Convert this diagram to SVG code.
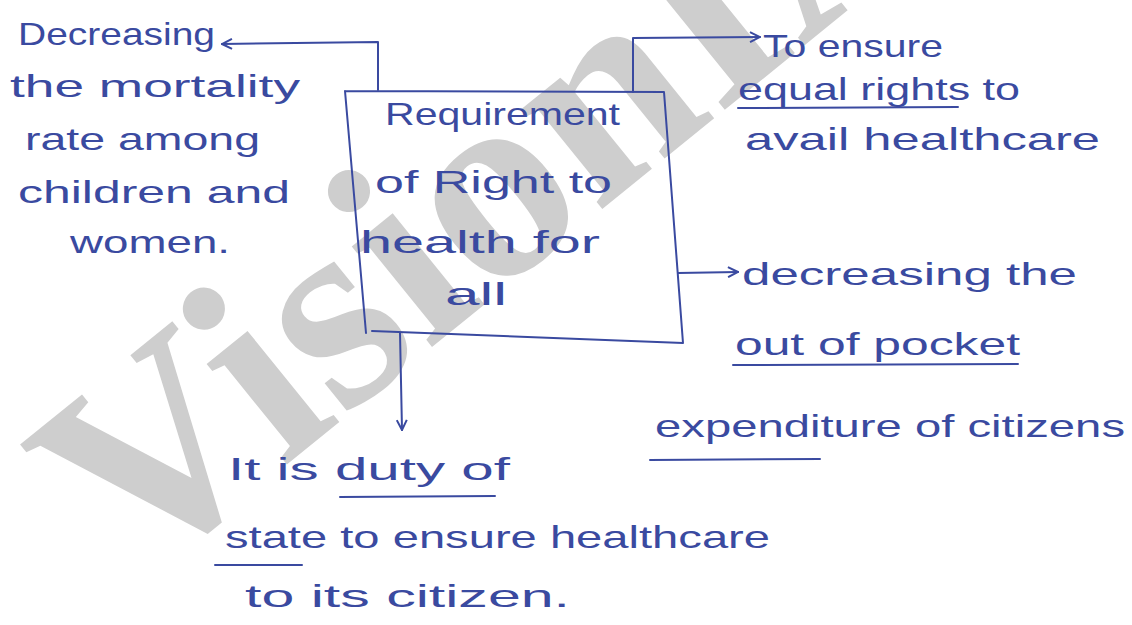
<svg xmlns="http://www.w3.org/2000/svg" width="1132" height="625" viewBox="0 0 1132 625">
<defs>
<style>
.t{font-family:"Liberation Sans","DejaVu Sans",sans-serif;font-size:32px;fill:#3a4aa0}
.ln{stroke:#3a4aa0;stroke-width:2;fill:none;stroke-linecap:round;stroke-linejoin:round}
.wm{font-family:"Liberation Serif","Times New Roman",serif;font-size:280px;font-weight:bold;fill:#cecece}
</style>
<marker id="ah" viewBox="0 0 12 12" refX="11" refY="6" markerWidth="12" markerHeight="12" markerUnits="userSpaceOnUse" orient="auto">
<path d="M1,1 L11,6 L1,11" fill="none" stroke="#3a4aa0" stroke-width="2"/>
</marker>
</defs>
<rect width="1132" height="625" fill="#ffffff"/>
<text class="wm" transform="translate(133,589) rotate(-39)">VisionIAS</text>
<g id="connectors">
<path class="ln" d="M378,90 L378,42 L222,44" marker-end="url(#ah)"/>
<path class="ln" d="M633,92 L633,38 L760,37" marker-end="url(#ah)"/>
<path class="ln" d="M678,273 L738,272" marker-end="url(#ah)"/>
<path class="ln" d="M400,333 L402,430" marker-end="url(#ah)"/>
</g>
<g id="center">
<path class="ln" d="M345,91 L664,92 L683,343 L372,331 M345,91 L366,333"/>
<text class="t" x="385" y="125" textLength="235" lengthAdjust="spacingAndGlyphs">Requirement</text>
<text class="t" x="375" y="193" textLength="237" lengthAdjust="spacingAndGlyphs">of Right to</text>
<text class="t" x="360" y="253" textLength="240" lengthAdjust="spacingAndGlyphs">health for</text>
<text class="t" x="445" y="305" textLength="62" lengthAdjust="spacingAndGlyphs">all</text>
</g>
<g id="left">
<text class="t" x="18" y="45" textLength="197" lengthAdjust="spacingAndGlyphs">Decreasing</text>
<text class="t" x="10" y="97" textLength="290" lengthAdjust="spacingAndGlyphs">the mortality</text>
<text class="t" x="25" y="150" textLength="235" lengthAdjust="spacingAndGlyphs">rate among</text>
<text class="t" x="18" y="203" textLength="272" lengthAdjust="spacingAndGlyphs">children and</text>
<text class="t" x="70" y="253" textLength="160" lengthAdjust="spacingAndGlyphs">women.</text>
</g>
<g id="topright">
<text class="t" x="763" y="57" textLength="180" lengthAdjust="spacingAndGlyphs">To ensure</text>
<text class="t" x="738" y="100" textLength="282" lengthAdjust="spacingAndGlyphs">equal rights to</text>
<path class="ln" d="M738,108 L958,107"/>
<text class="t" x="745" y="150" textLength="355" lengthAdjust="spacingAndGlyphs">avail healthcare</text>
</g>
<g id="right">
<text class="t" x="742" y="285" textLength="335" lengthAdjust="spacingAndGlyphs">decreasing the</text>
<text class="t" x="735" y="355" textLength="285" lengthAdjust="spacingAndGlyphs">out of pocket</text>
<path class="ln" d="M733,365 L1018,364"/>
<text class="t" x="655" y="437" textLength="470" lengthAdjust="spacingAndGlyphs">expenditure of citizens</text>
<path class="ln" d="M650,460 L820,459"/>
</g>
<g id="bottom">
<text class="t" x="228" y="480" textLength="282" lengthAdjust="spacingAndGlyphs">It is duty of</text>
<path class="ln" d="M340,497 L495,496"/>
<text class="t" x="225" y="548" textLength="545" lengthAdjust="spacingAndGlyphs">state to ensure healthcare</text>
<path class="ln" d="M215,565 L302,565"/>
<text class="t" x="245" y="607" textLength="325" lengthAdjust="spacingAndGlyphs">to its citizen.</text>
</g>
</svg>
